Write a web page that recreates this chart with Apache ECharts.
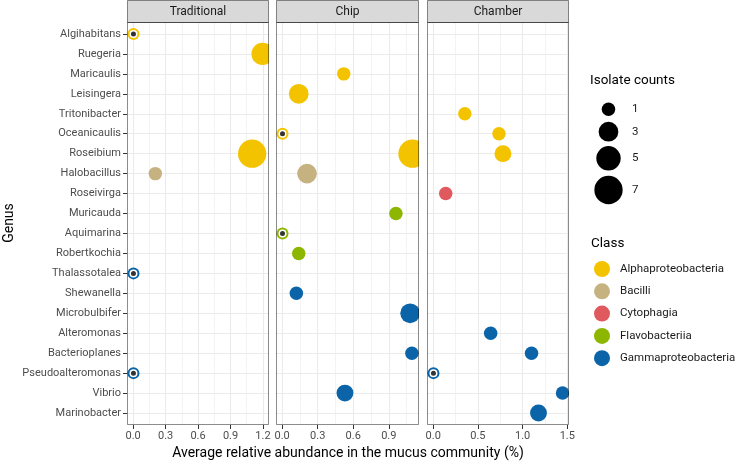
<!DOCTYPE html>
<html><head><meta charset="utf-8">
<script src="https://cdn.jsdelivr.net/npm/echarts@6/dist/echarts.min.js"></script>
<style>html,body{margin:0;padding:0;background:#fff}#c{width:736px;height:462px}</style>
</head><body><div id="c"></div>
<script>
const genera = ['Algihabitans','Ruegeria','Maricaulis','Leisingera','Tritonibacter','Oceanicaulis','Roseibium','Halobacillus','Roseivirga','Muricauda','Aquimarina','Robertkochia','Thalassotalea','Shewanella','Microbulbifer','Alteromonas','Bacterioplanes','Pseudoalteromonas','Vibrio','Marinobacter'];
const genusClass = ['Alphaproteobacteria','Alphaproteobacteria','Alphaproteobacteria','Alphaproteobacteria','Alphaproteobacteria','Alphaproteobacteria','Alphaproteobacteria','Bacilli','Cytophagia','Flavobacteriia','Flavobacteriia','Flavobacteriia','Gammaproteobacteria','Gammaproteobacteria','Gammaproteobacteria','Gammaproteobacteria','Gammaproteobacteria','Gammaproteobacteria','Gammaproteobacteria','Gammaproteobacteria'];
const classes = ['Alphaproteobacteria','Bacilli','Cytophagia','Flavobacteriia','Gammaproteobacteria'];
const classColors = ['#F4C300','#C6B280','#E0595E','#8DB600','#0B64A8'];
const panels = ['Traditional','Chip','Chamber'];

const tradGenus = ['Algihabitans','Ruegeria','Roseibium','Halobacillus','Thalassotalea','Pseudoalteromonas'];
const tradValue = [0.003,1.196,1.10,0.205,0.003,0.003];
const tradCount = [1,4,7,1,1,1];
const tradRing  = [1,0,0,0,1,1];

const chipGenus = ['Maricaulis','Leisingera','Oceanicaulis','Roseibium','Halobacillus','Muricauda','Aquimarina','Robertkochia','Shewanella','Microbulbifer','Bacterioplanes','Vibrio'];
const chipValue = [0.52,0.14,0.003,1.10,0.21,0.96,0.003,0.14,0.12,1.08,1.095,0.53];
const chipCount = [1,3,1,7,3,1,1,1,1,3,1,2];
const chipRing  = [0,0,1,0,0,0,1,0,0,0,0,0];

const chamberGenus = ['Tritonibacter','Oceanicaulis','Roseibium','Roseivirga','Alteromonas','Bacterioplanes','Pseudoalteromonas','Vibrio','Marinobacter'];
const chamberValue = [0.354,0.736,0.78,0.14,0.643,1.10,0.003,1.447,1.178];
const chamberCount = [1,1,2,1,1,1,1,1,2];
const chamberRing  = [0,0,0,0,0,0,1,0,0];

const tradTicks = [0,0.3,0.6,0.9,1.2];
const chipTicks = [0,0.3,0.6,0.9];
const chamberTicks = [0,0.5,1.0,1.5];
const tradMinor = [0.15,0.45,0.75,1.05];
const chipMinor = [0.15,0.45,0.75,1.05];
const chamberMinor = [0.25,0.75,1.25];
const sizeBreaks = [1,3,5,7];

const FONT = 'Roboto, "Liberation Sans", Arial, sans-serif';
function sz(c){ return Math.sqrt(103*c + 79); }

const panelData = [
  [tradGenus, tradValue, tradCount, tradRing, tradTicks, tradMinor],
  [chipGenus, chipValue, chipCount, chipRing, chipTicks, chipMinor],
  [chamberGenus, chamberValue, chamberCount, chamberRing, chamberTicks, chamberMinor]
];
const gridBox = [[127,142],[276,143],[427,142]];
const TOP = 22, H = 403;

const grids = [], xAxes = [], yAxes = [], series = [], graphics = [];
const rows = genera.map((g,i)=>i);

panelData.forEach((pd, p) => {
  const [gA, vA, cA, rA, ticks, minor] = pd;
  const lo = Math.min(...vA), hi = Math.max(...vA), R = hi - lo;
  grids.push({left: gridBox[p][0], top: TOP, width: gridBox[p][1], height: H, show: false});
  xAxes.push({
    type: 'value', gridIndex: p, position: 'bottom', min: lo - 0.05*R, max: hi + 0.05*R,
    axisLine: {show: false, onZero: false},
    axisTick: {show: true, customValues: ticks, length: 4, lineStyle: {color: '#333', width: 1}},
    axisLabel: {show: true, customValues: ticks, formatter: v => v.toFixed(1), color: '#4D4D4D', fontSize: 11, fontFamily: FONT, margin: 6},
    splitLine: {show: false}
  });
  yAxes.push({
    type: 'value', gridIndex: p, position: 'left', inverse: true, min: -0.6, max: 19.6,
    axisLine: {show: false, onZero: false},
    axisTick: {show: p === 0, customValues: rows, length: 4, lineStyle: {color: '#333', width: 1}},
    axisLabel: {show: p === 0, customValues: rows, formatter: v => genera[Math.round(v)] || '', color: '#4D4D4D', fontSize: 11, fontFamily: FONT, margin: 6},
    splitLine: {show: false}
  });
  const ml = [];
  minor.forEach(v => ml.push({xAxis: v, lineStyle: {color: '#EBEBEB', width: 0.6, type: 'solid'}}));
  ticks.forEach(v => ml.push({xAxis: v, lineStyle: {color: '#EBEBEB', width: 1.1, type: 'solid'}}));
  rows.forEach(v => ml.push({yAxis: v, lineStyle: {color: '#EBEBEB', width: 1.1, type: 'solid'}}));
  series.push({
    type: 'scatter', name: '_grid' + p, xAxisIndex: p, yAxisIndex: p, data: [], z: 1, silent: true,
    markLine: {z: 0, silent: true, symbol: ['none','none'], label: {show: false}, animation: false, data: ml}
  });
  classes.forEach((cls, k) => {
    const pts = [];
    gA.forEach((g, i) => {
      const gi = genera.indexOf(g);
      if (genusClass[gi] === cls) pts.push([vA[i], gi, cA[i], rA[i]]);
    });
    if (pts.length) series.push({
      type: 'scatter', name: cls, xAxisIndex: p, yAxisIndex: p, data: pts, z: 10,
      symbolSize: d => d[3] ? 12 : sz(d[2]),
      itemStyle: {color: classColors[k], opacity: 1}
    });
  });
  const rings = [];
  gA.forEach((g, i) => { if (rA[i]) rings.push([vA[i], genera.indexOf(g)]); });
  if (rings.length) series.push({
    type: 'scatter', name: '_ring' + p, xAxisIndex: p, yAxisIndex: p, data: rings, z: 11,
    symbolSize: 6.5, itemStyle: {color: '#333333', borderColor: '#ffffff', borderWidth: 1.5, opacity: 1}
  });

  const x0 = gridBox[p][0], w = gridBox[p][1];
  graphics.push({type: 'rect', z: 60, shape: {x: x0 + 0.5, y: 0.5, width: w - 1, height: TOP}, style: {fill: '#D9D9D9', stroke: 'rgba(0,0,0,0.45)', lineWidth: 1}});
  graphics.push({type: 'text', z: 61, x: x0 + w/2, y: 11.5, style: {text: panels[p], fill: '#1A1A1A', font: '12px ' + FONT, align: 'center', verticalAlign: 'middle'}});
  graphics.push({type: 'rect', z: 60, shape: {x: x0 + 0.5, y: TOP + 0.5, width: w - 1, height: H - 1}, style: {fill: 'none', stroke: 'rgba(0,0,0,0.45)', lineWidth: 1}});
});

graphics.push({type: 'rect', z: 55, shape: {x: 269, y: TOP, width: 7, height: H}, style: {fill: '#fff'}});
graphics.push({type: 'rect', z: 55, shape: {x: 419, y: TOP, width: 8, height: H}, style: {fill: '#fff'}});
graphics.push({type: 'rect', z: 55, shape: {x: 569, y: TOP, width: 20, height: H}, style: {fill: '#fff'}});

graphics.push({type: 'text', z: 70, x: 348, y: 453, style: {text: 'Average relative abundance in the mucus community (%)', fill: '#000', font: '14px ' + FONT, align: 'center', verticalAlign: 'middle'}});
graphics.push({type: 'text', z: 70, x: 9, y: 223, rotation: Math.PI/2, style: {text: 'Genus', fill: '#000', font: '14px ' + FONT, align: 'center', verticalAlign: 'middle'}});

graphics.push({type: 'text', z: 70, x: 590, y: 81, style: {text: 'Isolate counts', fill: '#000', font: '13.5px ' + FONT, align: 'left', verticalAlign: 'middle'}});
const sizeY = [109.3, 131.7, 158.3, 190];
sizeBreaks.forEach((c, i) => {
  graphics.push({type: 'circle', z: 70, shape: {cx: 608.5, cy: sizeY[i], r: sz(c)/2}, style: {fill: '#000'}});
  graphics.push({type: 'text', z: 70, x: 632, y: sizeY[i], style: {text: String(c), fill: '#1A1A1A', font: '11.5px ' + FONT, align: 'left', verticalAlign: 'middle'}});
});
graphics.push({type: 'text', z: 70, x: 591, y: 244, style: {text: 'Class', fill: '#000', font: '13.5px ' + FONT, align: 'left', verticalAlign: 'middle'}});

const chart = echarts.init(document.getElementById('c'), null, {renderer: 'canvas'});
chart.setOption({
  animation: false,
  backgroundColor: '#fff',
  grid: grids, xAxis: xAxes, yAxis: yAxes, series: series,
  legend: {
    data: classes, orient: 'vertical', left: 594, top: 261, padding: 0, itemWidth: 16, itemHeight: 16, itemGap: 6.3,
    icon: 'circle', selectedMode: false,
    textStyle: {fontSize: 11.5, color: '#1A1A1A', fontFamily: FONT, padding: [0,0,0,5]}
  },
  graphic: graphics
});
</script></body></html>
